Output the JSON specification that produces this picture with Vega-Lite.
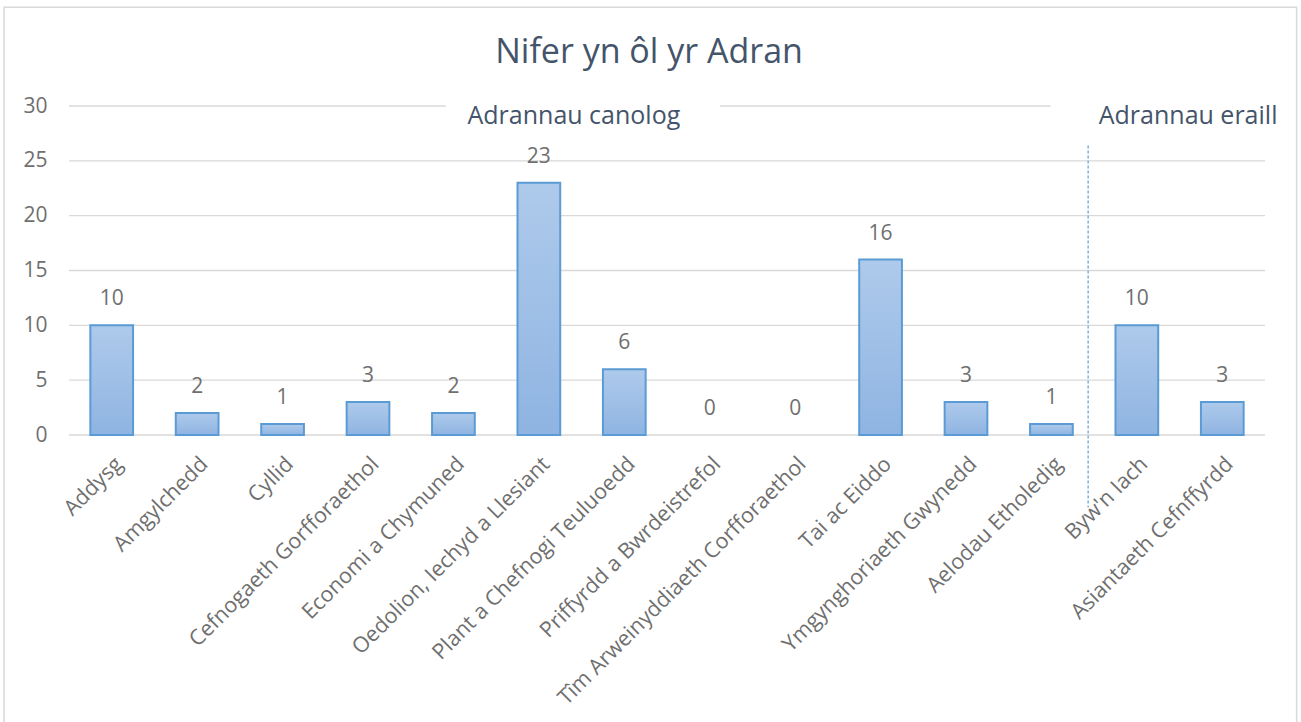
{
  "$schema": "https://vega.github.io/schema/vega-lite/v6.json",
  "width": 1196,
  "height": 329,
  "autosize": {"type": "none"},
  "padding": {"left": 69, "top": 106, "right": 36, "bottom": 287},
  "background": "white",
  "config": {
    "view": {"stroke": null},
    "font": "Open Sans"
  },
  "datasets": {
    "depts": [
      {"adran": "Addysg", "nifer": 10},
      {"adran": "Amgylchedd", "nifer": 2},
      {"adran": "Cyllid", "nifer": 1},
      {"adran": "Cefnogaeth Gorfforaethol", "nifer": 3},
      {"adran": "Economi a Chymuned", "nifer": 2},
      {"adran": "Oedolion, Iechyd a Llesiant", "nifer": 23},
      {"adran": "Plant a Chefnogi Teuluoedd", "nifer": 6},
      {"adran": "Priffyrdd a Bwrdeistrefol", "nifer": 0},
      {"adran": "Tîm Arweinyddiaeth Corfforaethol", "nifer": 0},
      {"adran": "Tai ac Eiddo", "nifer": 16},
      {"adran": "Ymgynghoriaeth Gwynedd", "nifer": 3},
      {"adran": "Aelodau Etholedig", "nifer": 1},
      {"adran": "Byw'n Iach", "nifer": 10},
      {"adran": "Asiantaeth Cefnffyrdd", "nifer": 3}
    ],
    "grid": [{"v": 0}, {"v": 5}, {"v": 10}, {"v": 15}, {"v": 20}, {"v": 25}],
    "topgrid": [{"a": 0, "b": 4.41, "v": 30}, {"a": 7.62, "b": 11.49, "v": 30}],
    "notes": [
      {"pos": 5.91, "v": 29.1, "label": "Adrannau canolog"},
      {"pos": 13.1, "v": 29.1, "label": "Adrannau eraill"}
    ],
    "heading": [{"pos": 6.79, "v": 34.8, "label": "Nifer yn ôl yr Adran"}],
    "divider": [{"pos": 11.93, "top": 26.4, "bottom": -6.6}],
    "frame": [{"a": -0.76, "b": 14.37, "top": 39.0, "bottom": -27}]
  },
  "resolve": {"scale": {"x": "independent"}, "axis": {"x": "independent"}},
  "layer": [
    {
      "layer": [
        {
          "data": {"name": "grid"},
          "mark": {"type": "rule", "color": "#d9d9d9", "strokeWidth": 1.3},
          "encoding": {
            "y": {
              "field": "v",
              "type": "quantitative",
              "scale": {"domain": [0, 30], "nice": false},
              "axis": {
                "title": null,
                "values": [0, 5, 10, 15, 20, 25, 30],
                "grid": false,
                "domain": false,
                "ticks": false,
                "labelFontSize": 21,
                "labelColor": "#6f6f6f",
                "labelFont": "Open Sans",
                "labelPadding": 22
              }
            }
          }
        },
        {
          "data": {"name": "depts"},
          "transform": [{"filter": "datum.nifer > 0"}],
          "mark": {
            "type": "bar",
            "stroke": "#5b9bd5",
            "strokeWidth": 2,
            "color": {
              "gradient": "linear",
              "x1": 0, "y1": 0, "x2": 0, "y2": 1,
              "stops": [
                {"offset": 0, "color": "#aecaeb"},
                {"offset": 1, "color": "#8fb4e2"}
              ]
            }
          },
          "encoding": {
            "x": {
              "field": "adran",
              "type": "nominal",
              "sort": null,
              "scale": {"domain": ["Addysg", "Amgylchedd", "Cyllid", "Cefnogaeth Gorfforaethol", "Economi a Chymuned", "Oedolion, Iechyd a Llesiant", "Plant a Chefnogi Teuluoedd", "Priffyrdd a Bwrdeistrefol", "Tîm Arweinyddiaeth Corfforaethol", "Tai ac Eiddo", "Ymgynghoriaeth Gwynedd", "Aelodau Etholedig", "Byw'n Iach", "Asiantaeth Cefnffyrdd"], "paddingInner": 0.5, "paddingOuter": 0.25},
              "axis": {
                "title": null,
                "labelAngle": -45,
                "labelFontSize": 21.5,
                "labelColor": "#6f6f6f",
                "labelFont": "Open Sans",
                "ticks": false,
                "domain": false,
                "labelPadding": 18,
                "labelLimit": 500
              }
            },
            "y": {"field": "nifer", "type": "quantitative"}
          }
        },
        {
          "data": {"name": "depts"},
          "mark": {"type": "text", "baseline": "middle", "dy": -26, "fontSize": 21, "color": "#6f6f6f", "font": "Open Sans"},
          "encoding": {
            "x": {"field": "adran", "type": "nominal", "sort": null},
            "y": {"field": "nifer", "type": "quantitative"},
            "text": {"field": "nifer", "type": "quantitative"}
          }
        }
      ]
    },
    {
      "layer": [
        {
          "data": {"name": "frame"},
          "mark": {"type": "rect", "fill": null, "stroke": "#d9d9d9", "strokeWidth": 1.5},
          "encoding": {
            "x": {"field": "a", "type": "quantitative", "scale": {"domain": [0, 14], "nice": false, "zero": false}, "axis": null},
            "x2": {"field": "b"},
            "y": {"field": "top", "type": "quantitative"},
            "y2": {"field": "bottom"}
          }
        },
        {
          "data": {"name": "topgrid"},
          "mark": {"type": "rule", "color": "#d9d9d9", "strokeWidth": 1.3},
          "encoding": {
            "x": {"field": "a", "type": "quantitative"},
            "x2": {"field": "b"},
            "y": {"field": "v", "type": "quantitative"}
          }
        },
        {
          "data": {"name": "divider"},
          "mark": {"type": "rule", "color": "#7fb0e0", "strokeWidth": 1.5, "strokeDash": [3, 2]},
          "encoding": {
            "x": {"field": "pos", "type": "quantitative"},
            "y": {"field": "top", "type": "quantitative"},
            "y2": {"field": "bottom"}
          }
        },
        {
          "data": {"name": "notes"},
          "mark": {"type": "text", "baseline": "middle", "align": "center", "fontSize": 25, "color": "#44546a", "font": "Open Sans"},
          "encoding": {
            "x": {"field": "pos", "type": "quantitative"},
            "y": {"field": "v", "type": "quantitative"},
            "text": {"field": "label", "type": "nominal"}
          }
        },
        {
          "data": {"name": "heading"},
          "mark": {"type": "text", "baseline": "middle", "align": "center", "fontSize": 34, "color": "#44546a", "font": "Open Sans"},
          "encoding": {
            "x": {"field": "pos", "type": "quantitative"},
            "y": {"field": "v", "type": "quantitative"},
            "text": {"field": "label", "type": "nominal"}
          }
        }
      ]
    }
  ]
}
